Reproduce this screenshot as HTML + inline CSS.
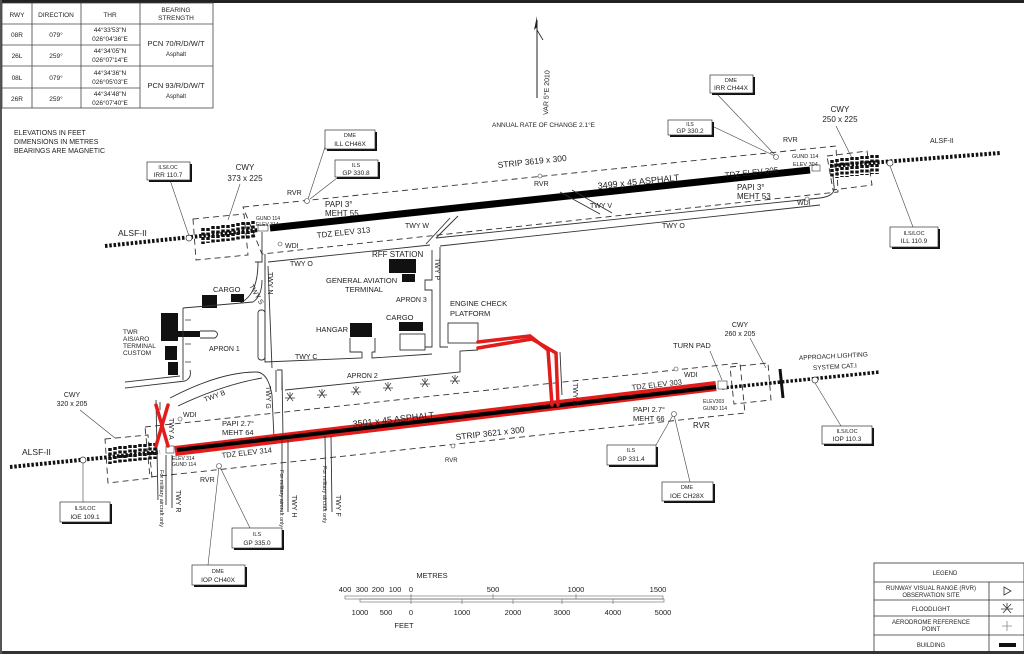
<!DOCTYPE html>
<html><head><meta charset="utf-8"><style>
html,body{margin:0;padding:0;background:#fff;}
svg{display:block;font-family:"Liberation Sans",Arial,sans-serif;}
</style></head><body>
<svg width="1024" height="654" viewBox="0 0 1024 654" xmlns="http://www.w3.org/2000/svg">
<rect x="0" y="0" width="1024" height="654" fill="#fff"/>
<!-- frame -->
<rect x="0" y="0" width="1024" height="3" fill="#222"/>
<rect x="0" y="651" width="1024" height="3" fill="#333"/>
<rect x="0" y="0" width="2" height="654" fill="#555"/>

<!-- table -->
<g stroke="#444" stroke-width="0.8" fill="none">
<rect x="2" y="3" width="211" height="105"/>
<line x1="32" y1="3" x2="32" y2="108"/><line x1="81" y1="3" x2="81" y2="108"/><line x1="140" y1="3" x2="140" y2="108"/>
<line x1="2" y1="24" x2="213" y2="24"/><line x1="2" y1="45" x2="140" y2="45"/><line x1="2" y1="66" x2="213" y2="66"/><line x1="2" y1="88" x2="140" y2="88"/>
</g>
<g font-size="6.5" fill="#222" text-anchor="middle">
<text x="17" y="17">RWY</text><text x="56" y="17">DIRECTION</text><text x="110" y="17">THR</text>
<text x="176" y="12">BEARING</text><text x="176" y="20">STRENGTH</text>
<text x="17" y="37">08R</text><text x="56" y="37">079°</text><text x="110" y="32">44°33'53"N</text><text x="110" y="41">026°04'36"E</text>
<text x="17" y="58">26L</text><text x="56" y="58">259°</text><text x="110" y="53">44°34'05"N</text><text x="110" y="62">026°07'14"E</text>
<text x="17" y="80">08L</text><text x="56" y="80">079°</text><text x="110" y="75">44°34'36"N</text><text x="110" y="84">026°05'03"E</text>
<text x="17" y="101">26R</text><text x="56" y="101">259°</text><text x="110" y="96">44°34'48"N</text><text x="110" y="105">026°07'40"E</text>
<text x="176" y="46" font-size="7.5">PCN 70/R/D/W/T</text><text x="176" y="56" font-size="6">Asphalt</text>
<text x="176" y="88" font-size="7.5">PCN 93/R/D/W/T</text><text x="176" y="98" font-size="6">Asphalt</text>
</g>

<g font-size="7" fill="#222">
<text x="14" y="135">ELEVATIONS IN FEET</text><text x="14" y="144">DIMENSIONS IN METRES</text><text x="14" y="153">BEARINGS ARE MAGNETIC</text>
</g>

<!-- north arrow -->
<line x1="537" y1="20" x2="537" y2="98" stroke="#222" stroke-width="1"/>
<polygon points="537,16 534,30 537,27" fill="#222"/>
<line x1="537" y1="30" x2="543" y2="40" stroke="#222" stroke-width="0.8"/>
<text transform="translate(548,115) rotate(-88)" font-size="7" fill="#222">VAR 5°E 2010</text>
<text x="492" y="127" font-size="6.5" fill="#222">ANNUAL RATE OF CHANGE 2.1°E</text>

<!-- ================= UPPER RUNWAY ================= -->
<g stroke="#333" stroke-width="0.9" fill="none" stroke-dasharray="6,4">
<polygon points="243,207 836,146 838,192 262,254"/>
<polygon points="193,219 244,214 248,255 196,260"/>
<polygon points="827,156 867,151 872,185 833,190"/>
</g>
<!-- approach lights upper left -->
<line x1="105" y1="246" x2="258" y2="230" stroke="#111" stroke-width="4" stroke-dasharray="2.5,1.8"/>
<g stroke="#111" stroke-width="3.5" stroke-dasharray="3,1.5">
<line x1="203" y1="228" x2="203" y2="244"/><line x1="208" y1="228" x2="208" y2="243"/><line x1="213" y1="226" x2="213" y2="243"/><line x1="218" y1="226" x2="218" y2="242"/><line x1="223" y1="225" x2="223" y2="242"/><line x1="228" y1="225" x2="228" y2="241"/><line x1="233" y1="224" x2="233" y2="241"/><line x1="238" y1="223" x2="238" y2="240"/><line x1="243" y1="222" x2="243" y2="240"/><line x1="248" y1="222" x2="248" y2="239"/><line x1="253" y1="221" x2="253" y2="239"/>
</g>
<circle cx="189" cy="238" r="3" fill="#fff" stroke="#333" stroke-width="0.7"/>
<!-- approach lights upper right -->
<line x1="830" y1="166" x2="1000" y2="153" stroke="#111" stroke-width="4" stroke-dasharray="2.5,1.8"/>
<g stroke="#111" stroke-width="3.5" stroke-dasharray="3,1.5">
<line x1="832" y1="160" x2="832" y2="178"/><line x1="837" y1="159" x2="837" y2="178"/><line x1="842" y1="158" x2="842" y2="177"/><line x1="847" y1="158" x2="847" y2="177"/><line x1="852" y1="157" x2="852" y2="176"/><line x1="857" y1="157" x2="857" y2="176"/><line x1="862" y1="156" x2="862" y2="175"/><line x1="867" y1="156" x2="867" y2="175"/><line x1="872" y1="155" x2="872" y2="174"/><line x1="877" y1="155" x2="877" y2="174"/>
</g>
<circle cx="890" cy="163" r="3" fill="#fff" stroke="#333" stroke-width="0.7"/>
<!-- runway -->
<line x1="270" y1="228" x2="810" y2="170" stroke="#000" stroke-width="7"/>
<rect x="258" y="225" width="10" height="6" fill="#fff" stroke="#333" stroke-width="0.6"/>
<rect x="812" y="165" width="8" height="6" fill="#fff" stroke="#333" stroke-width="0.6"/>
<!-- taxiways upper -->
<g stroke="#333" stroke-width="0.9" fill="none">
<path d="M262,232 L262,262 L255,262"/>
<path d="M268,262 L430,245"/>
<path d="M436,238 L820,198 Q836,196 834,186 L833,176"/>
<path d="M440,246 L820,205"/>
<path d="M426,244 L450,218"/><path d="M436,238 L458,216"/>
<path d="M560,192 L600,214"/><path d="M572,190 L612,213"/>
<path d="M265,262 L265,362 L362,358 L362,352 M372,352 L372,358 L432,354"/>
<path d="M268,266 L272,368"/>
<path d="M432,250 L432,280 L425,280 L425,290 L432,290 L432,347 L425,347"/>
<path d="M440,247 L440,347 L448,347"/>
<path d="M258,262 Q258,295 240,303"/>
<path d="M265,254 L265,270"/>
</g>
<!-- buildings upper -->
<g fill="#111">
<rect x="389" y="259" width="27" height="14"/>
<rect x="402" y="274" width="13" height="8"/>
<rect x="350" y="323" width="22" height="14"/>
<rect x="399" y="322" width="24" height="9"/>
<rect x="202" y="295" width="15" height="13"/>
<rect x="231" y="294" width="13" height="8"/>
<rect x="161" y="313" width="17" height="28"/>
<rect x="165" y="346" width="12" height="14"/>
<rect x="168" y="362" width="10" height="13"/>
<rect x="176" y="331" width="24" height="6"/>
</g>
<g stroke="#333" stroke-width="0.9" fill="none">
<rect x="448" y="323" width="30" height="20"/>
<rect x="400" y="334" width="25" height="16"/>
<path d="M350,338 L350,352 L362,352 M372,352 L375,352 L375,338"/>
<path d="M200,331 L215,331 Q220,334 215,338 L200,338"/>
<path d="M183,308 L253,302 Q262,296 262,280"/>
<path d="M183,308 L183,380"/>
<path d="M125,388 L185,381 Q192,378 190,370"/>
<path d="M125,382 L180,376"/>
<rect x="258" y="310" width="7" height="50" rx="3"/>
<path d="M160,402 L160,410 M170,398 Q220,372 256,372 Q268,372 272,395 L274,438"/>
<path d="M178,406 Q222,385 262,378"/>
<path d="M276,370 L276,392 M282,372 L283,438"/>
<path d="M285,390 L460,372 L460,351 L478,350"/>
<path d="M277,370 L282,370 L282,390"/>
</g>
<!-- floodlights -->
<g stroke="#333" stroke-width="0.7" fill="none">
<path d="M290,392 v6 M285,398 h10 M287,393 l6,8 M293,393 l-6,8"/>
<path d="M322,389 v6 M317,395 h10 M319,390 l6,8 M325,390 l-6,8"/>
<path d="M356,386 v6 M351,392 h10 M353,387 l6,8 M359,387 l-6,8"/>
<path d="M388,382 v6 M383,388 h10 M385,383 l6,8 M391,383 l-6,8"/>
<path d="M425,378 v6 M420,384 h10 M422,379 l6,8 M428,379 l-6,8"/>
<path d="M455,375 v6 M450,381 h10 M452,376 l6,8 M458,376 l-6,8"/>
<path d="M185,320 l6,0 M185,344 l6,0 M185,362 l6,0"/>
</g>

<!-- ================= LOWER RUNWAY ================= -->
<g stroke="#333" stroke-width="0.9" fill="none" stroke-dasharray="6,4">
<polygon points="145,427 740,363 745,413 150,477"/>
<polygon points="105,439 148,435 152,478 108,483"/>
<polygon points="730,367 768,363 771,400 734,404"/>
</g>
<line x1="10" y1="467" x2="160" y2="452" stroke="#111" stroke-width="4" stroke-dasharray="2.5,1.8"/>
<g stroke="#111" stroke-width="3.5" stroke-dasharray="3,1.5">
<line x1="110" y1="448" x2="110" y2="464"/><line x1="115" y1="447" x2="115" y2="463"/><line x1="120" y1="446" x2="120" y2="463"/><line x1="125" y1="446" x2="125" y2="462"/><line x1="130" y1="445" x2="130" y2="462"/><line x1="135" y1="445" x2="135" y2="461"/><line x1="140" y1="444" x2="140" y2="461"/><line x1="145" y1="444" x2="145" y2="460"/><line x1="150" y1="443" x2="150" y2="460"/><line x1="155" y1="443" x2="155" y2="459"/>
</g>
<circle cx="83" cy="460" r="3" fill="#fff" stroke="#333" stroke-width="0.7"/>
<line x1="722" y1="388" x2="880" y2="372" stroke="#111" stroke-width="3.5" stroke-dasharray="2.5,1.8"/>
<line x1="780" y1="369" x2="783" y2="398" stroke="#111" stroke-width="3"/>
<circle cx="815" cy="380" r="3" fill="#fff" stroke="#333" stroke-width="0.7"/>
<!-- red overlay & runway -->
<line x1="175" y1="451" x2="716" y2="386" stroke="#e21b1b" stroke-width="10"/>
<line x1="177" y1="450" x2="716" y2="387" stroke="#000" stroke-width="4"/>
<rect x="166" y="446" width="8" height="7" fill="#fff" stroke="#333" stroke-width="0.6"/>
<rect x="718" y="381" width="9" height="8" fill="#fff" stroke="#333" stroke-width="0.6"/>
<!-- lower taxiways -->
<g stroke="#333" stroke-width="0.9" fill="none">
<path d="M156,400 L158,500 M166,455 L166,505 M172,455 L172,508"/>
<path d="M282,440 L282,510 M288,440 L288,512"/>
<path d="M325,436 L326,510 M331,436 L332,512"/>
<path d="M547,350 L552,395 M560,352 L562,395"/>
</g>
<g stroke="#e21b1b" stroke-width="3.5" fill="none" stroke-linecap="round">
<path d="M478,348 L532,339 L556,353 L558,405"/>
<path d="M478,342 L530,336 L548,350 L552,405"/>
<path d="M156,405 L168,446 M168,405 L156,446"/>
</g>

<!-- labels -->
<g fill="#222" font-size="7">
<text x="118" y="236" font-size="8.5">ALSF-II</text>
<text x="930" y="143" font-size="7">ALSF-II</text>
<text x="22" y="455" font-size="8.5">ALSF-II</text>
<text x="245" y="170" font-size="8" text-anchor="middle">CWY</text><text x="245" y="181" font-size="8" text-anchor="middle">373 x 225</text>
<text x="840" y="112" font-size="8" text-anchor="middle">CWY</text><text x="840" y="122" font-size="8" text-anchor="middle">250 x 225</text>
<text x="72" y="397" font-size="7" text-anchor="middle">CWY</text><text x="72" y="406" font-size="7" text-anchor="middle">320 x 205</text>
<text x="740" y="327" font-size="7" text-anchor="middle">CWY</text><text x="740" y="336" font-size="7" text-anchor="middle">260 x 205</text>
<text x="287" y="195">RVR</text>
<text x="325" y="207" font-size="8">PAPI 3°</text><text x="325" y="216" font-size="8">MEHT 55</text>
<text x="256" y="220" font-size="5">GUND 114</text><text x="256" y="226" font-size="5">ELEV 314</text>
<text x="285" y="248">WDI</text>
<text transform="translate(498,168) rotate(-6)" font-size="8.5">STRIP  3619 x 300</text>
<text transform="translate(598,189) rotate(-6)" font-size="9">3499 x 45 ASPHALT</text>
<text transform="translate(317,238) rotate(-6)" font-size="8">TDZ ELEV 313</text>
<text transform="translate(725,178) rotate(-6)" font-size="8">TDZ ELEV 305</text>
<text x="534" y="186">RVR</text>
<text x="405" y="228">TWY W</text><text x="590" y="208">TWY V</text><text x="662" y="228">TWY O</text><text x="290" y="266">TWY O</text>
<text x="783" y="142">RVR</text>
<text x="792" y="158" font-size="5.5">GUND 114</text><text x="793" y="166" font-size="5.5">ELEV 304</text>
<text x="737" y="190" font-size="8">PAPI 3°</text><text x="737" y="199" font-size="8">MEHT 53</text>
<text x="797" y="205">WDI</text>
<text transform="translate(435,258) rotate(90)">TWY P</text>
<text transform="translate(268,272) rotate(90)">TWY N</text>
<text transform="translate(249,286) rotate(60)">TWY S</text>
<text x="372" y="257" font-size="8">RFF STATION</text>
<text x="326" y="283" font-size="7.5">GENERAL AVIATION</text><text x="345" y="292" font-size="7.5">TERMINAL</text>
<text x="396" y="302">APRON 3</text>
<text x="450" y="306" font-size="7.5">ENGINE CHECK</text><text x="450" y="316" font-size="7.5">PLATFORM</text>
<text x="213" y="292" font-size="7.5">CARGO</text>
<text x="316" y="332" font-size="7.5">HANGAR</text>
<text x="386" y="320" font-size="7.5">CARGO</text>
<text x="209" y="351">APRON 1</text>
<text x="123" y="334" font-size="6.5">TWR</text><text x="123" y="341" font-size="6.5">AIS/ARO</text><text x="123" y="348" font-size="6.5">TERMINAL</text><text x="123" y="355" font-size="6.5">CUSTOM</text>
<text x="295" y="359">TWY C</text>
<text x="347" y="378">APRON 2</text>
<text transform="translate(205,402) rotate(-20)">TWY B</text>
<text transform="translate(266,386) rotate(90)">TWY G</text>
<text transform="translate(573,383) rotate(90)">TWY D</text>
<text transform="translate(169,418) rotate(90)">TWY A</text>
<text x="183" y="417">WDI</text>
<text x="222" y="426" font-size="7.5">PAPI 2.7°</text><text x="222" y="435" font-size="7.5">MEHT 64</text>
<text transform="translate(353,427) rotate(-6.4)" font-size="9">3501 x 45  ASPHALT</text>
<text transform="translate(456,440) rotate(-6.4)" font-size="8.5">STRIP  3621 x 300</text>
<text transform="translate(222,458) rotate(-6.4)" font-size="7.5">TDZ ELEV 314</text>
<text transform="translate(632,390) rotate(-6.4)" font-size="7.5">TDZ ELEV 303</text>
<text x="172" y="460" font-size="5">ELEV 314</text><text x="172" y="466" font-size="5">GUND 114</text>
<text x="200" y="482">RVR</text>
<text transform="translate(176,490) rotate(90)">TWY R</text>
<text transform="translate(292,495) rotate(90)">TWY H</text>
<text transform="translate(336,495) rotate(90)">TWY F</text>
<text transform="translate(160,470) rotate(90)" font-size="5.5">For military aircraft only</text>
<text transform="translate(280,470) rotate(90)" font-size="5.5">For military aircraft only</text>
<text transform="translate(323,466) rotate(90)" font-size="5.5">For military aircraft only</text>
<text x="445" y="462" font-size="6">RVR</text>
<text x="633" y="412" font-size="7.5">PAPI 2.7°</text><text x="633" y="421" font-size="7.5">MEHT 66</text>
<text x="693" y="428" font-size="8">RVR</text>
<text x="684" y="377">WDI</text>
<text x="703" y="403" font-size="5">ELEV303</text><text x="703" y="410" font-size="5">GUND 114</text>
<text x="673" y="348" font-size="7.5">TURN PAD</text>
<text transform="translate(799,360) rotate(-3)" font-size="6.5">APPROACH LIGHTING</text><text transform="translate(813,370) rotate(-3)" font-size="6.5">SYSTEM CAT.I</text>
</g>

<!-- callout leader lines -->
<g stroke="#444" stroke-width="0.6" fill="none">
<line x1="170" y1="180" x2="189" y2="236"/>
<line x1="240" y1="184" x2="228" y2="220"/>
<line x1="325" y1="147" x2="308" y2="199"/>
<line x1="337" y1="178" x2="310" y2="199"/>
<line x1="712" y1="126" x2="775" y2="156"/>
<line x1="716" y1="93" x2="776" y2="156"/>
<line x1="836" y1="126" x2="852" y2="158"/>
<line x1="913" y1="227" x2="890" y2="166"/>
<line x1="83" y1="503" x2="83" y2="463"/>
<line x1="80" y1="410" x2="115" y2="438"/>
<line x1="250" y1="528" x2="220" y2="467"/>
<line x1="208" y1="565" x2="219" y2="467"/>
<line x1="656" y1="445" x2="673" y2="415"/>
<line x1="690" y1="482" x2="674" y2="415"/>
<line x1="710" y1="351" x2="722" y2="380"/>
<line x1="750" y1="338" x2="766" y2="368"/>
<line x1="841" y1="426" x2="815" y2="383"/>
</g>
<g fill="#fff" stroke="#444" stroke-width="0.6">
<circle cx="307" cy="201" r="2.5"/><circle cx="776" cy="157" r="2.5"/><circle cx="219" cy="466" r="2.5"/><circle cx="674" cy="414" r="2.5"/><circle cx="540" cy="176" r="2"/><circle cx="453" cy="446" r="2"/><circle cx="280" cy="244" r="2"/><circle cx="807" cy="199" r="2"/><circle cx="180" cy="419" r="2"/><circle cx="676" cy="369" r="2"/>
</g>

<!-- callout boxes -->
<g font-size="6.5" fill="#222" text-anchor="middle">
<g><rect x="149" y="164" width="43" height="18" fill="#111"/><rect x="147" y="162" width="43" height="18" fill="#fff" stroke="#333" stroke-width="0.7"/><text x="168" y="169" font-size="5">ILS/LOC</text><text x="168" y="177">IRR  110.7</text></g>
<g><rect x="327" y="132" width="50" height="19" fill="#111"/><rect x="325" y="130" width="50" height="19" fill="#fff" stroke="#333" stroke-width="0.7"/><text x="350" y="137" font-size="5.5">DME</text><text x="350" y="146">ILL   CH46X</text></g>
<g><rect x="337" y="162" width="43" height="17" fill="#111"/><rect x="335" y="160" width="43" height="17" fill="#fff" stroke="#333" stroke-width="0.7"/><text x="356" y="167" font-size="5.5">ILS</text><text x="356" y="175">GP    330.8</text></g>
<g><rect x="670" y="122" width="44" height="15" fill="#111"/><rect x="668" y="120" width="44" height="15" fill="#fff" stroke="#333" stroke-width="0.7"/><text x="690" y="126" font-size="5">ILS</text><text x="690" y="133">GP   330.2</text></g>
<g><rect x="712" y="77" width="43" height="18" fill="#111"/><rect x="710" y="75" width="43" height="18" fill="#fff" stroke="#333" stroke-width="0.7"/><text x="731" y="82" font-size="5.5">DME</text><text x="731" y="90">IRR   CH44X</text></g>
<g><rect x="892" y="229" width="48" height="20" fill="#111"/><rect x="890" y="227" width="48" height="20" fill="#fff" stroke="#333" stroke-width="0.7"/><text x="914" y="235" font-size="5.5">ILS/LOC</text><text x="914" y="243">ILL   110.9</text></g>
<g><rect x="62" y="504" width="50" height="20" fill="#111"/><rect x="60" y="502" width="50" height="20" fill="#fff" stroke="#333" stroke-width="0.7"/><text x="85" y="510" font-size="5.5">ILS/LOC</text><text x="85" y="519">IOE  109.1</text></g>
<g><rect x="234" y="530" width="50" height="20" fill="#111"/><rect x="232" y="528" width="50" height="20" fill="#fff" stroke="#333" stroke-width="0.7"/><text x="257" y="536" font-size="5.5">ILS</text><text x="257" y="545">GP    335.0</text></g>
<g><rect x="194" y="567" width="53" height="20" fill="#111"/><rect x="192" y="565" width="53" height="20" fill="#fff" stroke="#333" stroke-width="0.7"/><text x="218" y="573" font-size="5.5">DME</text><text x="218" y="582">IOP   CH40X</text></g>
<g><rect x="609" y="447" width="49" height="20" fill="#111"/><rect x="607" y="445" width="49" height="20" fill="#fff" stroke="#333" stroke-width="0.7"/><text x="631" y="452" font-size="5.5">ILS</text><text x="631" y="461">GP    331.4</text></g>
<g><rect x="664" y="484" width="51" height="19" fill="#111"/><rect x="662" y="482" width="51" height="19" fill="#fff" stroke="#333" stroke-width="0.7"/><text x="687" y="489" font-size="5.5">DME</text><text x="687" y="498">IOE   CH28X</text></g>
<g><rect x="824" y="428" width="50" height="18" fill="#111"/><rect x="822" y="426" width="50" height="18" fill="#fff" stroke="#333" stroke-width="0.7"/><text x="847" y="433" font-size="5.5">ILS/LOC</text><text x="847" y="441">IOP   110.3</text></g>
</g>

<!-- scale -->
<g fill="#222" font-size="7.5" text-anchor="middle">
<text x="432" y="578">METRES</text>
<text x="345" y="592">400</text><text x="362" y="592">300</text><text x="378" y="592">200</text><text x="395" y="592">100</text><text x="411" y="592">0</text>
<text x="493" y="592">500</text><text x="576" y="592">1000</text><text x="658" y="592">1500</text>
<text x="360" y="615">1000</text><text x="386" y="615">500</text><text x="411" y="615">0</text><text x="462" y="615">1000</text><text x="513" y="615">2000</text><text x="562" y="615">3000</text><text x="613" y="615">4000</text><text x="663" y="615">5000</text>
<text x="404" y="628">FEET</text>
</g>
<g stroke="#666" stroke-width="0.6" fill="none">
<rect x="345" y="596" width="318" height="3"/><rect x="360" y="599" width="304" height="3"/>
<line x1="411" y1="594" x2="411" y2="604"/><line x1="493" y1="594" x2="493" y2="599"/><line x1="576" y1="594" x2="576" y2="599"/><line x1="462" y1="599" x2="462" y2="604"/><line x1="513" y1="599" x2="513" y2="604"/><line x1="562" y1="599" x2="562" y2="604"/><line x1="613" y1="599" x2="613" y2="604"/>
</g>

<!-- legend -->
<g stroke="#333" stroke-width="0.8" fill="none">
<rect x="874" y="563" width="150" height="91"/>
<line x1="874" y1="582" x2="1024" y2="582"/><line x1="874" y1="600" x2="1024" y2="600"/><line x1="874" y1="616" x2="1024" y2="616"/><line x1="874" y1="635" x2="1024" y2="635"/>
<line x1="989" y1="582" x2="989" y2="654"/>
<path d="M1004,587 L1011,591 L1004,595 Z"/>
<path d="M1007,603 v6 M1001,609 h12 M1003,604 l8,9 M1011,604 l-8,9"/>
<path d="M1007,621 v10 M1002,626 h10" stroke="#888"/>
</g>
<rect x="999" y="643" width="17" height="4" fill="#111"/>
<g fill="#222" font-size="6" text-anchor="middle">
<text x="945" y="575">LEGEND</text>
<text x="931" y="590">RUNWAY VISUAL RANGE (RVR)</text><text x="931" y="597">OBSERVATION SITE</text>
<text x="931" y="611">FLOODLIGHT</text>
<text x="931" y="624">AERODROME REFERENCE</text><text x="931" y="631">POINT</text>
<text x="931" y="647">BUILDING</text>
</g>
</svg>
</body></html>
